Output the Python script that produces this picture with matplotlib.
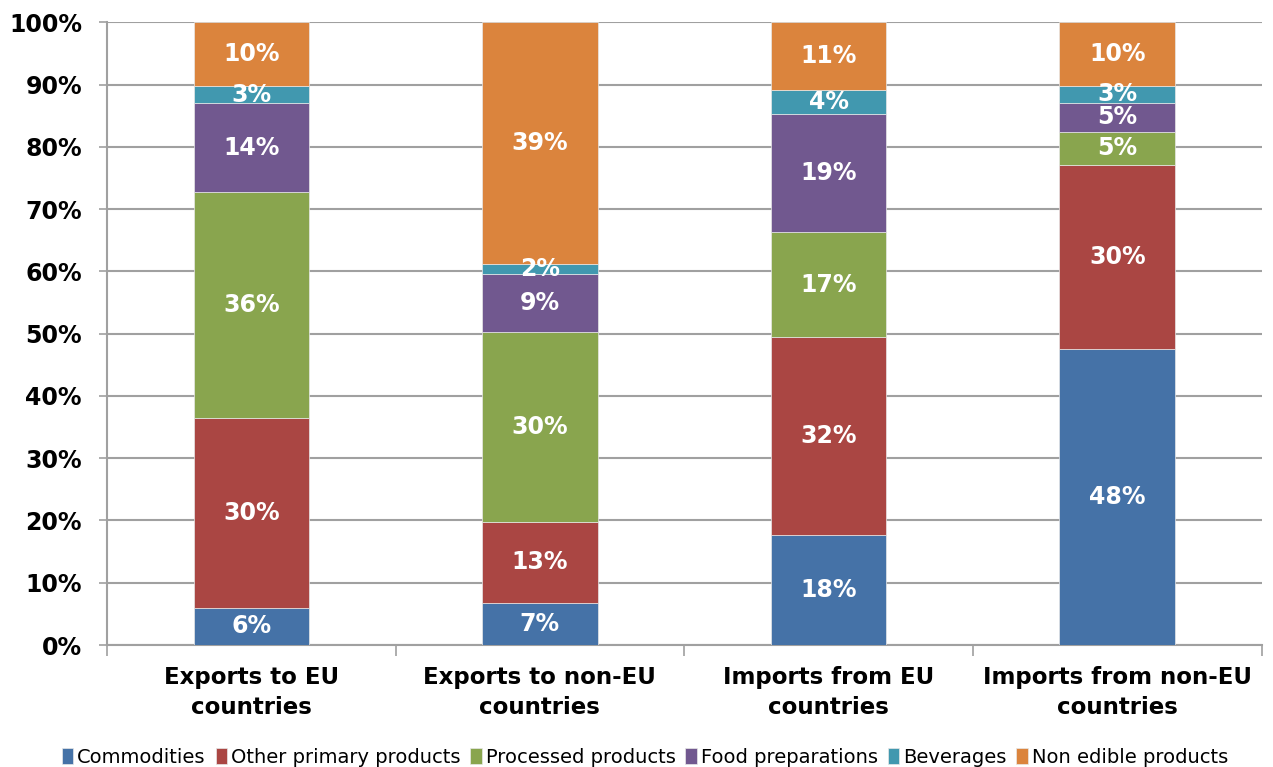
import numpy as np
import matplotlib.pyplot as plt
from matplotlib.ticker import FixedLocator, PercentFormatter

categories = ["Exports to EU\ncountries", "Exports to non-EU\ncountries",
              "Imports from EU\ncountries", "Imports from non-EU\ncountries"]

commodities = [6.0, 6.8, 17.7, 47.6]
other_primary = [30.4, 13.0, 31.7, 29.5]
processed = [36.3, 30.4, 16.9, 5.3]
food_prep = [14.3, 9.4, 18.9, 4.7]
beverages = [2.7, 1.6, 4.0, 2.6]
non_edible = [10.3, 38.8, 10.8, 10.3]

series = [
    ("Commodities", commodities, "#4572A7"),
    ("Other primary products", other_primary, "#AA4643"),
    ("Processed products", processed, "#89A54E"),
    ("Food preparations", food_prep, "#71588F"),
    ("Beverages", beverages, "#4198AF"),
    ("Non edible products", non_edible, "#DB843D"),
]

fig = plt.figure(figsize=(12.73, 7.67), dpi=100)
ax = fig.add_axes([0.084, 0.159, 0.907, 0.812])

x = np.arange(len(categories))
bottom = np.zeros(len(categories))
for name, vals, col in series:
    vals = np.array(vals)
    ax.bar(x, vals, 0.4, bottom=bottom, color=col, label=name,
           edgecolor="#e8e8e8", linewidth=0.5, zorder=3)
    for xi, b, v in zip(x, bottom, vals):
        ax.text(xi, b + v / 2, f"{v:.0f}%", ha="center", va="center",
                color="white", fontsize=17, fontweight="bold", zorder=4)
    bottom += vals

ax.set_xlim(-0.5, 3.5)
ax.set_ylim(0, 100)
ax.set_yticks(np.arange(0, 101, 10))
ax.yaxis.set_major_formatter(PercentFormatter(decimals=0))
ax.grid(axis="y", color="#a0a0a0", linewidth=1.5, zorder=0)

ax.set_xticks(x)
ax.set_xticklabels(categories, fontsize=16.5, fontweight="bold", linespacing=1.4)
ax.xaxis.set_minor_locator(FixedLocator([-0.5, 0.5, 1.5, 2.5, 3.5]))
ax.tick_params(axis="x", which="major", length=0, pad=15)
ax.tick_params(axis="x", which="minor", length=8, color="#a0a0a0", width=1.2)
ax.tick_params(axis="y", length=6, color="#a0a0a0", width=1.2, labelsize=17, pad=12)
for lab in ax.get_yticklabels():
    lab.set_fontweight("bold")

for s in ["top", "right"]:
    ax.spines[s].set_visible(False)
for s in ["left", "bottom"]:
    ax.spines[s].set_color("#a0a0a0")
    ax.spines[s].set_linewidth(1.5)

ax.legend(loc="center", bbox_to_anchor=(0.466, -0.18), ncol=6, frameon=False,
          fontsize=14, handlelength=0.6, handleheight=0.9, handletextpad=0.2,
          columnspacing=0.5)

fig.savefig("out.png", dpi=100)
